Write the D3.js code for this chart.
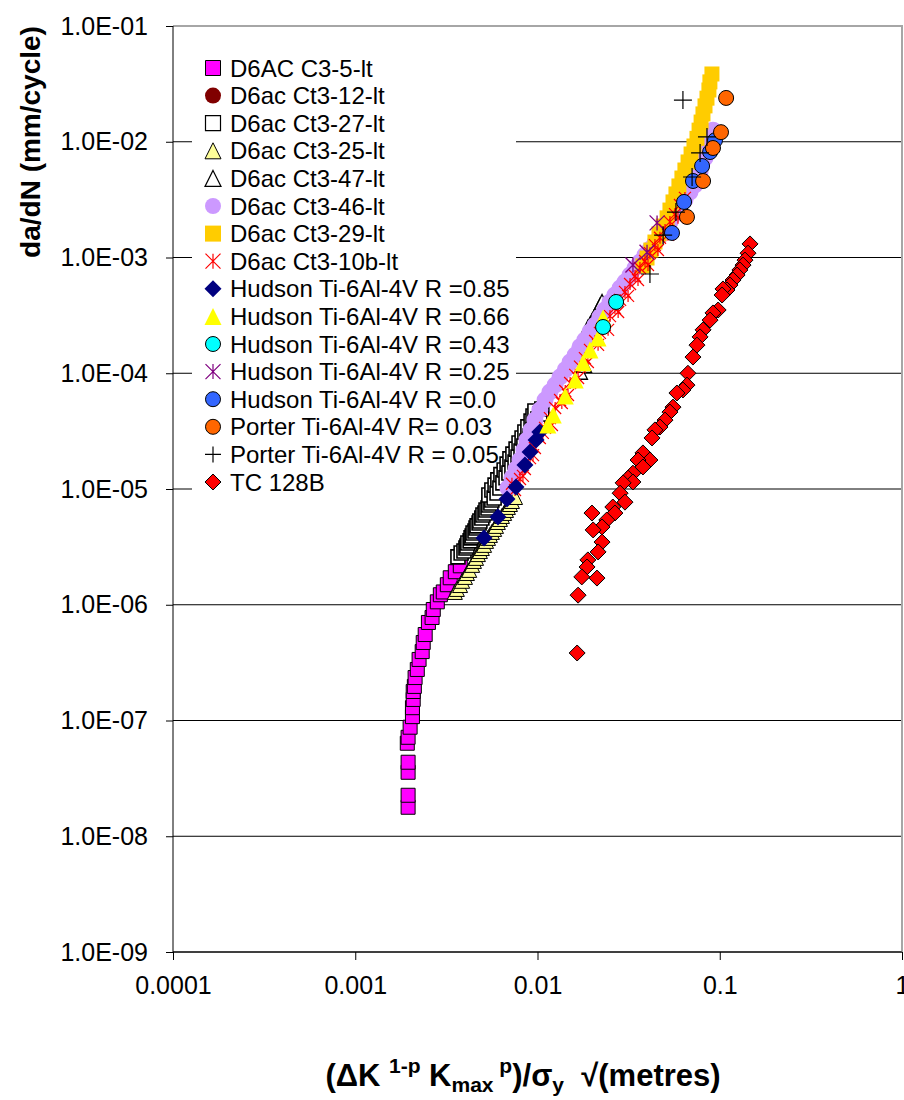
<!DOCTYPE html>
<html>
<head>
<meta charset="utf-8">
<script src="https://cdnjs.cloudflare.com/ajax/libs/d3/7.8.5/d3.min.js"></script>
<style>
  body { margin: 0; background: #fff; }
  svg { display: block; font-family: "Liberation Sans", Arial, sans-serif; }
</style>
</head>
<body>
<div class="chart"></div>
<script>
// axis ticks
var xTicks = [0.0001, 0.001, 0.01, 0.1, 1];
var xTickLabels = ["0.0001", "0.001", "0.01", "0.1", "1"];
var yTicks = [1e-9, 1e-8, 1e-7, 1e-6, 1e-5, 1e-4, 1e-3, 1e-2, 1e-1];
var yTickLabels = ["1.0E-09", "1.0E-08", "1.0E-07", "1.0E-06", "1.0E-05", "1.0E-04", "1.0E-03", "1.0E-02", "1.0E-01"];

var seriesNames = ["D6AC C3-5-lt", "D6ac Ct3-12-lt", "D6ac Ct3-27-lt", "D6ac Ct3-25-lt", "D6ac Ct3-47-lt",
  "D6ac Ct3-46-lt", "D6ac Ct3-29-lt", "D6ac Ct3-10b-lt", "Hudson Ti-6Al-4V R =0.85", "Hudson Ti-6Al-4V R =0.66",
  "Hudson Ti-6Al-4V R =0.43", "Hudson Ti-6Al-4V R =0.25", "Hudson Ti-6Al-4V R =0.0", "Porter Ti-6Al-4V R= 0.03",
  "Porter Ti-6Al-4V R = 0.05", "TC 128B"];

// D6AC C3-5-lt
var c35X = [0.00195,0.00195,0.00195,0.00195,0.00193,0.00195,0.0020,0.00206,0.00206,0.00208,0.00208,0.00211,0.00213,0.00219,0.00224,0.00233,0.00236,0.00242,0.00252,0.00264,0.00268,0.00282,0.00293,0.00304,0.0032,0.00332,0.00354,0.00377];
var c35Y = [1.78e-8,2.26e-8,3.57e-8,4.36e-8,6.36e-8,7.16e-8,8.75e-8,1.08e-7,1.29e-7,1.52e-7,1.78e-7,1.97e-7,2.35e-7,2.76e-7,3.37e-7,3.94e-7,4.72e-7,5.53e-7,7.03e-7,7.76e-7,9.1e-7,1.06e-6,1.22e-6,1.29e-6,1.49e-6,1.71e-6,1.93e-6,2.17e-6];
// D6ac Ct3-12-lt
var c12X = [0.0142, 0.0234, 0.0389];
var c12Y = [1.07e-4, 3.52e-4, 1.05e-3];
// D6ac Ct3-27-lt
var c27X = [0.00366,0.00381,0.00395,0.00405,0.0041,0.00415,0.00427,0.00432,0.00438,0.00443,0.00454,0.0046,0.00466,0.00478,0.00483,0.00495,0.00502,0.00515,0.00522,0.00535,0.00541,0.00555,0.00562,
  0.00541,0.00562,0.00578,0.00585,0.0060,0.00606,0.00622,0.0063,0.00646,0.00656,0.00672,0.00681,0.00697,0.00706,0.00724,0.00733,0.00753,0.00763,0.00782,0.00792,0.00812,0.00823,0.00842,0.00853,0.00875,0.00886,0.0091,0.00922,0.00945,0.00945,0.0098,0.00968,0.01005,0.0103,0.01056];
var c27Y = [2.59e-6,2.80e-6,2.91e-6,3.09e-6,3.22e-6,3.42e-6,3.56e-6,3.78e-6,3.93e-6,4.17e-6,4.34e-6,4.61e-6,4.80e-6,5.09e-6,5.29e-6,5.62e-6,5.96e-6,6.21e-6,6.59e-6,6.86e-6,7.28e-6,7.57e-6,8.04e-6,
  8.88e-6,9.80e-6,8.37e-6,1.08e-5,9.23e-6,1.20e-5,1.02e-5,1.33e-5,1.13e-5,1.46e-5,1.25e-5,1.64e-5,1.375e-5,1.82e-5,1.55e-5,2.00e-5,1.71e-5,2.21e-5,1.89e-5,2.50e-5,2.13e-5,2.76e-5,2.35e-5,3.11e-5,2.60e-5,3.44e-5,2.87e-5,3.86e-5,3.24e-5,4.27e-5,3.57e-5,4.72e-5,4.02e-5,4.44e-5,4.91e-5];
// D6ac Ct3-25-lt
var c25X = [0.00352,0.00361,0.00376,0.00386,0.0040,0.0041,0.00422,0.00438,0.00448,0.0046,0.00471,0.00483,0.00495,0.00509,0.00522,0.00535,0.00548,0.00562,0.00578,0.00592,0.00606,0.00622,0.00638,0.00656,0.00672,0.00688,0.00706,0.00724,0.00753];
var c25Y = [1.29e-6,1.37e-6,1.48e-6,1.61e-6,1.74e-6,1.88e-6,2.0e-6,2.21e-6,2.39e-6,2.54e-6,2.74e-6,2.91e-6,3.09e-6,3.29e-6,3.56e-6,3.78e-6,4.01e-6,4.26e-6,4.52e-6,4.80e-6,5.19e-6,5.51e-6,5.85e-6,6.21e-6,6.59e-6,7.0e-6,7.42e-6,7.88e-6,8.53e-6];
// D6ac Ct3-47-lt
var c47X = [0.0171,0.0180,0.0189,0.0194,0.0199,0.0204,0.0210,0.0215,0.0220,0.0226];
var c47Y = [1.03e-4,1.18e-4,2.47e-4,2.61e-4,2.82e-4,3.0e-4,3.25e-4,3.52e-4,3.81e-4,4.13e-4];
// D6ac Ct3-46-lt
var c46X = [0.00688,0.00724,0.00763,0.00802,0.00842,0.00875,0.00922,0.00968,0.0103,0.0110,0.0117,0.0125,0.0133,0.0142,0.0151,0.0161,0.0171,0.0182,0.0194,0.0207,0.0220,0.0234,0.0250,0.0266,0.0284,0.0302,0.0322,0.0343,0.0365,0.0389,0.0414,0.0441,0.0470,0.0501,0.0533,0.0568,0.0605,0.0644,0.0687,0.0731,0.0780,0.0830,0.0872,0.0918];
var c46Y = [1.02e-5,1.25e-5,1.49e-5,1.78e-5,2.17e-5,2.65e-5,3.24e-5,3.94e-5,4.81e-5,5.87e-5,6.89e-5,7.91e-5,9.28e-5,1.07e-4,1.25e-4,1.44e-4,1.69e-4,1.94e-4,2.28e-4,2.61e-4,3.06e-4,3.52e-4,4.13e-4,4.74e-4,5.45e-4,6.14e-4,7.06e-4,8.12e-4,9.14e-4,1.05e-3,1.18e-3,1.34e-3,1.54e-3,1.76e-3,2.03e-3,2.37e-3,2.73e-3,3.14e-3,3.68e-3,4.23e-3,5.48e-3,7.24e-3,9.32e-3,1.26e-2];
// D6ac Ct3-29-lt
var c29X = [0.0906,0.0883,0.0872,0.0851,0.0830,0.0809,0.0790,0.0770,0.0750,0.0722,0.0696,0.0670,0.0644,0.0620,0.0597,0.0575,0.0554,0.0533,0.0514,0.0489,0.0464,0.0441,0.0419,0.0399,0.0379];
var c29Y = [3.85e-2,3.29e-2,2.80e-2,2.38e-2,2.04e-2,1.74e-2,1.48e-2,1.26e-2,1.07e-2,9.19e-3,7.84e-3,6.69e-3,5.70e-3,4.86e-3,4.15e-3,3.54e-3,3.02e-3,2.57e-3,2.20e-3,1.87e-3,1.60e-3,1.36e-3,1.16e-3,9.90e-4,8.45e-4];
// D6ac Ct3-10b-lt
var c10X = [0.00724,0.00753,0.00802,0.00832,0.00853,0.0091,0.00945,0.00968,0.0103,0.0107,0.0110,0.0117,0.0120,0.0125,0.0133,0.0136,0.0142,0.0147,0.0151,0.0161,0.0167,0.0171,0.0182,0.0189,0.0194,0.0207,0.0215,0.0220,0.0234,0.0244,0.0250,0.0266,0.0277,0.0284,0.0302,0.0314,0.0322,0.0343,0.0356,0.0365,0.0389,0.0404,0.0414,0.0441,0.0458,0.0470,0.0501,0.0520,0.0533,0.0568,0.0590,0.0605,0.0644];
var c10Y = [1.11e-5,9.80e-6,1.22e-5,1.30e-5,1.49e-5,1.85e-5,1.96e-5,2.26e-5,2.76e-5,3.05e-5,3.37e-5,4.10e-5,3.57e-5,5.01e-5,5.87e-5,5.53e-5,7.03e-5,6.49e-5,8.24e-5,9.69e-5,9.09e-5,1.14e-4,1.35e-4,1.25e-4,1.59e-4,1.90e-4,1.76e-4,2.23e-4,2.61e-4,2.37e-4,3.12e-4,3.66e-4,3.38e-4,4.30e-4,5.04e-4,4.66e-4,5.90e-4,6.92e-4,6.39e-4,8.12e-4,9.32e-4,8.62e-4,1.09e-3,1.28e-3,1.16e-3,1.48e-3,1.73e-3,1.57e-3,2.03e-3,2.37e-3,2.20e-3,2.84e-3,3.27e-3];
// Hudson
var h85X = [0.00509,0.00607,0.0068,0.00762,0.00853,0.0091,0.00982,0.0103];
var h85Y = [3.77e-6,5.73e-6,8.2e-6,1.04e-5,1.61e-5,2.09e-5,2.65e-5,3.11e-5];
var h66X = [0.0114,0.0122,0.0142,0.0161,0.0178,0.0194,0.0215,0.0229];
var h66Y = [3.57e-5,4.36e-5,6.36e-5,8.74e-5,1.23e-4,1.59e-4,2.02e-4,3.0e-4];
var h43X = [0.0229, 0.027];
var h43Y = [2.51e-4, 4.13e-4];
var h25X = [0.0334, 0.0399, 0.0453];
var h25Y = [8.6e-4, 1.11e-3, 1.99e-3];
var h00X = [0.0547,0.0637,0.0713,0.080,0.0885,0.0942];
var h00Y = [1.63e-3,3.02e-3,4.58e-3,6.17e-3,8.15e-3,1.03e-2];
// Porter
var p03X = [0.0661,0.081,0.0918,0.1016,0.1084];
var p03Y = [2.24e-3,4.58e-3,8.83e-3,1.21e-2,2.39e-2];
var p05X = [0.0628,0.0851,0.078,0.0705,0.0575,0.0489,0.0414];
var p05Y = [2.29e-2,1.1e-2,8.0e-3,4.96e-3,2.47e-3,1.56e-3,7.2e-4];
// TC 128B
var tcX = [0.1466,0.1429,0.1376,0.1342,0.129,0.1245,0.1183,0.1138,0.1096,0.1042,0.103,0.098,0.0918,0.0885,0.081,0.078,0.075,0.0713,0.0669,0.0661,0.0628,0.0582,0.0554,0.0533,0.0501,0.047,0.0441,0.0425,0.0379,0.0414,0.0356,0.0379,0.0334,0.0314,0.0334,0.0295,0.0284,0.0302,0.0259,0.0266,0.024,0.0199,0.0226,0.0202,0.0226,0.0215,0.0189,0.0187,0.0212,0.0175,0.0167,0.0165];
var tcY = [1.31e-3,1.09e-3,9.5e-4,8.6e-4,7.8e-4,7.06e-4,6.39e-4,5.78e-4,5.24e-4,5.35e-4,4.74e-4,3.52e-4,3.32e-4,2.88e-4,2.37e-4,2.06e-4,1.75e-4,1.38e-4,1.0e-4,7.9e-5,7.17e-5,6.75e-5,5.1e-5,4.62e-5,3.94e-5,3.43e-5,3.24e-5,2.76e-5,2.05e-5,1.78e-5,1.78e-5,1.55e-5,1.37e-5,1.24e-5,1.15e-5,1.13e-5,9.2e-6,7.7e-6,6.99e-6,6.2e-6,5.4e-6,6.2e-6,4.7e-6,4.43e-6,3.48e-6,2.86e-6,2.44e-6,2.12e-6,1.70e-6,1.74e-6,1.21e-6,3.83e-7];

var W = 904, H = 1100;
var plotL = 173, plotR = 902, plotT = 26, plotB = 952;

var svg = d3.select(".chart").append("svg")
    .attr("width", W)
    .attr("height", H);

var x = d3.scaleLog().domain([1e-4, 1]).range([plotL, plotR]);
var y = d3.scaleLog().domain([1e-9, 1e-1]).range([plotB, plotT]);

// marker shapes, s = size in px
function markerPath(type, s) {
  var h = s / 2;
  if (type == "square") return "M" + (-h) + "," + (-h) + "h" + s + "v" + s + "h" + (-s) + "Z";
  if (type == "circle") return d3.symbol(d3.symbolCircle, Math.PI * h * h)();
  if (type == "triangle") return "M0," + (-h) + "L" + h + "," + h + "L" + (-h) + "," + h + "Z";
  if (type == "diamond") return "M0," + (-h) + "L" + h + ",0L0," + h + "L" + (-h) + ",0Z";
  if (type == "star") return "M" + (-h) + "," + (-h) + "L" + h + "," + h + "M" + (-h) + "," + h + "L" + h + "," + (-h) + "M0," + (-h) + "V" + h;
  if (type == "plus") return "M" + (-h) + ",0H" + h + "M0," + (-h) + "V" + h;
}

function zip(xs, ys) {
  return xs.map(function(v, i) { return [v, ys[i]]; });
}

var series = [
  {pts: zip(c35X, c35Y), type: "square", size: 14, fill: "#ff00ff", stroke: "#000", sw: 1, lsize: 15},
  {pts: zip(c12X, c12Y), type: "circle", size: 15, fill: "#800000", stroke: "none", sw: 0, lsize: 16},
  {pts: zip(c27X, c27Y), type: "square", size: 14, fill: "#fff", stroke: "#000", sw: 1.6, lsize: 15},
  {pts: zip(c25X, c25Y), type: "triangle", size: 15, fill: "#ffff99", stroke: "#000", sw: 1, lsize: 16},
  {pts: zip(c47X, c47Y), type: "triangle", size: 15, fill: "#fff", stroke: "#000", sw: 1.3, lsize: 16},
  {pts: zip(c46X, c46Y), type: "circle", size: 17, fill: "#cc99ff", stroke: "none", sw: 0, lsize: 16},
  {pts: zip(c29X, c29Y), type: "square", size: 15, fill: "#ffcc00", stroke: "none", sw: 0, lsize: 16},
  {pts: zip(c10X, c10Y), type: "star", size: 12, fill: "none", stroke: "#ff0000", sw: 1.2, lsize: 15},
  {pts: zip(h85X, h85Y), type: "diamond", size: 17, fill: "#000080", stroke: "none", sw: 0, lsize: 17},
  {pts: zip(h66X, h66Y), type: "triangle", size: 17, fill: "#ffff00", stroke: "none", sw: 0, lsize: 17},
  {pts: zip(h43X, h43Y), type: "circle", size: 15, fill: "#00ffff", stroke: "#000", sw: 1, lsize: 15},
  {pts: zip(h25X, h25Y), type: "star", size: 15, fill: "none", stroke: "#800080", sw: 1.3, lsize: 15},
  {pts: zip(h00X, h00Y), type: "circle", size: 15, fill: "#3366ff", stroke: "#000", sw: 1, lsize: 15},
  {pts: zip(p03X, p03Y), type: "circle", size: 15, fill: "#ff6600", stroke: "#000", sw: 1, lsize: 15},
  {pts: zip(p05X, p05Y), type: "plus", size: 18, fill: "none", stroke: "#000", sw: 1.2, lsize: 16},
  {pts: zip(tcX, tcY), type: "diamond", size: 16, fill: "#ff0000", stroke: "#000", sw: 1, lsize: 16}
];

// gridlines
svg.selectAll(".grid")
  .data(yTicks.slice(0, -1))
  .enter()
  .append("line")
  .attr("x1", plotL)
  .attr("x2", plotR)
  .attr("y1", function(d) { return y(d); })
  .attr("y2", function(d) { return y(d); })
  .style("stroke", "#000")
  .style("stroke-width", 1);

// plot frame top and right (grey)
svg.append("path")
  .attr("d", "M" + plotL + "," + plotT + "H" + plotR + "V" + plotB)
  .style("fill", "none")
  .style("stroke", "#a6a6a6")
  .style("stroke-width", 2);

// legend (box hides the gridlines, data goes on top)
var legend = svg.append("g");
legend.append("rect")
  .attr("x", 192)
  .attr("y", 50)
  .attr("width", 324)
  .attr("height", 448)
  .style("fill", "#fff");

var rows = legend.selectAll(".row")
  .data(series)
  .enter()
  .append("g")
  .attr("transform", function(d, i) { return "translate(213," + (68 + i * 27.6) + ")"; });

rows.append("path")
  .attr("d", function(d) { return markerPath(d.type, d.lsize); })
  .style("fill", function(d) { return d.fill; })
  .style("stroke", function(d) { return d.stroke; })
  .style("stroke-width", function(d) { return Math.min(d.sw, 1.2); });

rows.append("text")
  .attr("x", 17)
  .attr("dy", "0.36em")
  .style("font-size", "24px")
  .text(function(d, i) { return seriesNames[i]; });

// axes
var yAxis = d3.axisLeft(y).tickValues(yTicks).tickSize(7).tickFormat(function(d, i) { return yTickLabels[i]; });
var gy = svg.append("g").attr("transform", "translate(" + plotL + ",0)").call(yAxis);
gy.select(".domain").attr("d", "M0," + plotT + "V" + plotB).style("stroke", "#000");
gy.selectAll(".tick line").style("stroke", "#000");
gy.selectAll(".tick text")
  .attr("x", -25)
  .style("font-size", "25px")
  .style("font-family", "'Liberation Sans', Arial, sans-serif")
  .style("fill", "#000");

var xAxis = d3.axisBottom(x).tickValues(xTicks).tickSize(8).tickFormat(function(d, i) { return xTickLabels[i]; });
var gx = svg.append("g").attr("transform", "translate(0," + plotB + ")").call(xAxis);
gx.select(".domain").attr("d", "M" + plotL + ",0H" + plotR).style("stroke", "#000");
gx.selectAll(".tick line").style("stroke", "#000");
gx.selectAll(".tick text")
  .attr("y", 24)
  .style("font-size", "25px")
  .style("font-family", "'Liberation Sans', Arial, sans-serif")
  .style("fill", "#000");

// data
series.forEach(function(s) {
  svg.append("g").selectAll("path")
    .data(s.pts)
    .enter()
    .append("path")
    .attr("transform", function(d) { return "translate(" + x(d[0]) + "," + y(d[1]) + ")"; })
    .attr("d", markerPath(s.type, s.size))
    .style("fill", s.fill)
    .style("stroke", s.stroke)
    .style("stroke-width", s.sw);
});

// axis titles
svg.append("text")
  .attr("transform", "translate(40,142) rotate(-90)")
  .attr("text-anchor", "middle")
  .style("font-size", "28px")
  .style("font-weight", "bold")
  .text("da/dN (mm/cycle)");

var xt = svg.append("text")
  .attr("x", 523)
  .attr("y", 1086)
  .attr("text-anchor", "middle")
  .style("font-size", "31px")
  .style("font-weight", "bold");
xt.append("tspan").text("(\u0394K ");
xt.append("tspan").attr("dy", -13).style("font-size", "21px").text("1-p");
xt.append("tspan").attr("dy", 13).text(" K");
xt.append("tspan").attr("dy", 6).style("font-size", "21px").text("max");
xt.append("tspan").attr("dy", -19).style("font-size", "21px").text(" p");
xt.append("tspan").attr("dy", 13).text(")/\u03c3");
xt.append("tspan").attr("dy", 6).style("font-size", "21px").text("y");
xt.append("tspan").attr("dy", -6).text("\u00a0\u00a0\u221a(metres)");
</script>
</body>
</html>
